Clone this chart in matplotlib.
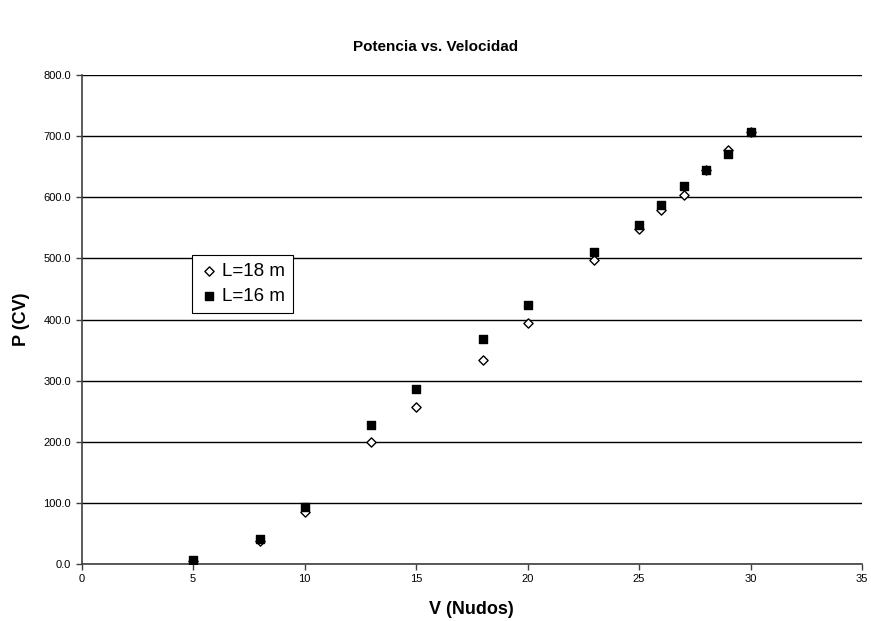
import matplotlib
matplotlib.use('Agg')
import matplotlib.pyplot as plt
from matplotlib.ticker import FormatStrFormatter

plt.rcParams['font.family'] = ['Liberation Sans', 'DejaVu Sans']

# velocidad (nudos)
v = [5, 8, 10, 13, 15, 18, 20, 23, 25, 26, 27, 28, 29, 30]
# potencia (CV)
p_18 = [5, 37, 85, 199, 257, 334, 395, 498, 548, 579, 604, 645, 678, 706]
p_16 = [7, 41, 94, 227, 286, 368, 423, 510, 554, 587, 619, 645, 670, 707]

fig = plt.figure(figsize=(8.71, 6.21), dpi=100)
ax = fig.add_axes([0.0937, 0.0918, 0.896, 0.7874])

ax.scatter(v, p_18, marker='D', s=22, facecolor='white', edgecolor='black',
           linewidth=1.0, label='L=18 m', zorder=3)
ax.scatter(v, p_16, marker='s', s=38, color='black', label='L=16 m', zorder=4)

ax.set_xlim(0, 35)
ax.set_ylim(0, 800)
ax.set_xticks(range(0, 36, 5))
ax.set_yticks(range(0, 801, 100))
ax.yaxis.set_major_formatter(FormatStrFormatter('%.1f'))
ax.tick_params(labelsize=8, length=4, width=1, direction='out', color='#404040')
ax.yaxis.grid(True, color='black', linewidth=1)
ax.set_axisbelow(True)
for s in ['top', 'right']:
    ax.spines[s].set_visible(False)
for s in ['left', 'bottom']:
    ax.spines[s].set_color('#404040')
    ax.spines[s].set_linewidth(1.2)

ax.set_xlabel('V (Nudos)', fontsize=13, fontweight='bold', labelpad=12)
ax.set_ylabel('P (CV)', fontsize=13, fontweight='bold', labelpad=10)
fig.suptitle('Potencia vs. Velocidad', fontsize=11, fontweight='bold', y=0.935)

leg = ax.legend(loc='upper left', bbox_to_anchor=(0.1415, 0.632), borderaxespad=0,
                fontsize=13.5, fancybox=False, edgecolor='black', framealpha=1,
                handletextpad=0.2, borderpad=0.4, labelspacing=0.45, handlelength=1.0)
leg.get_frame().set_linewidth(0.8)

fig.savefig('out.png', dpi=100)
